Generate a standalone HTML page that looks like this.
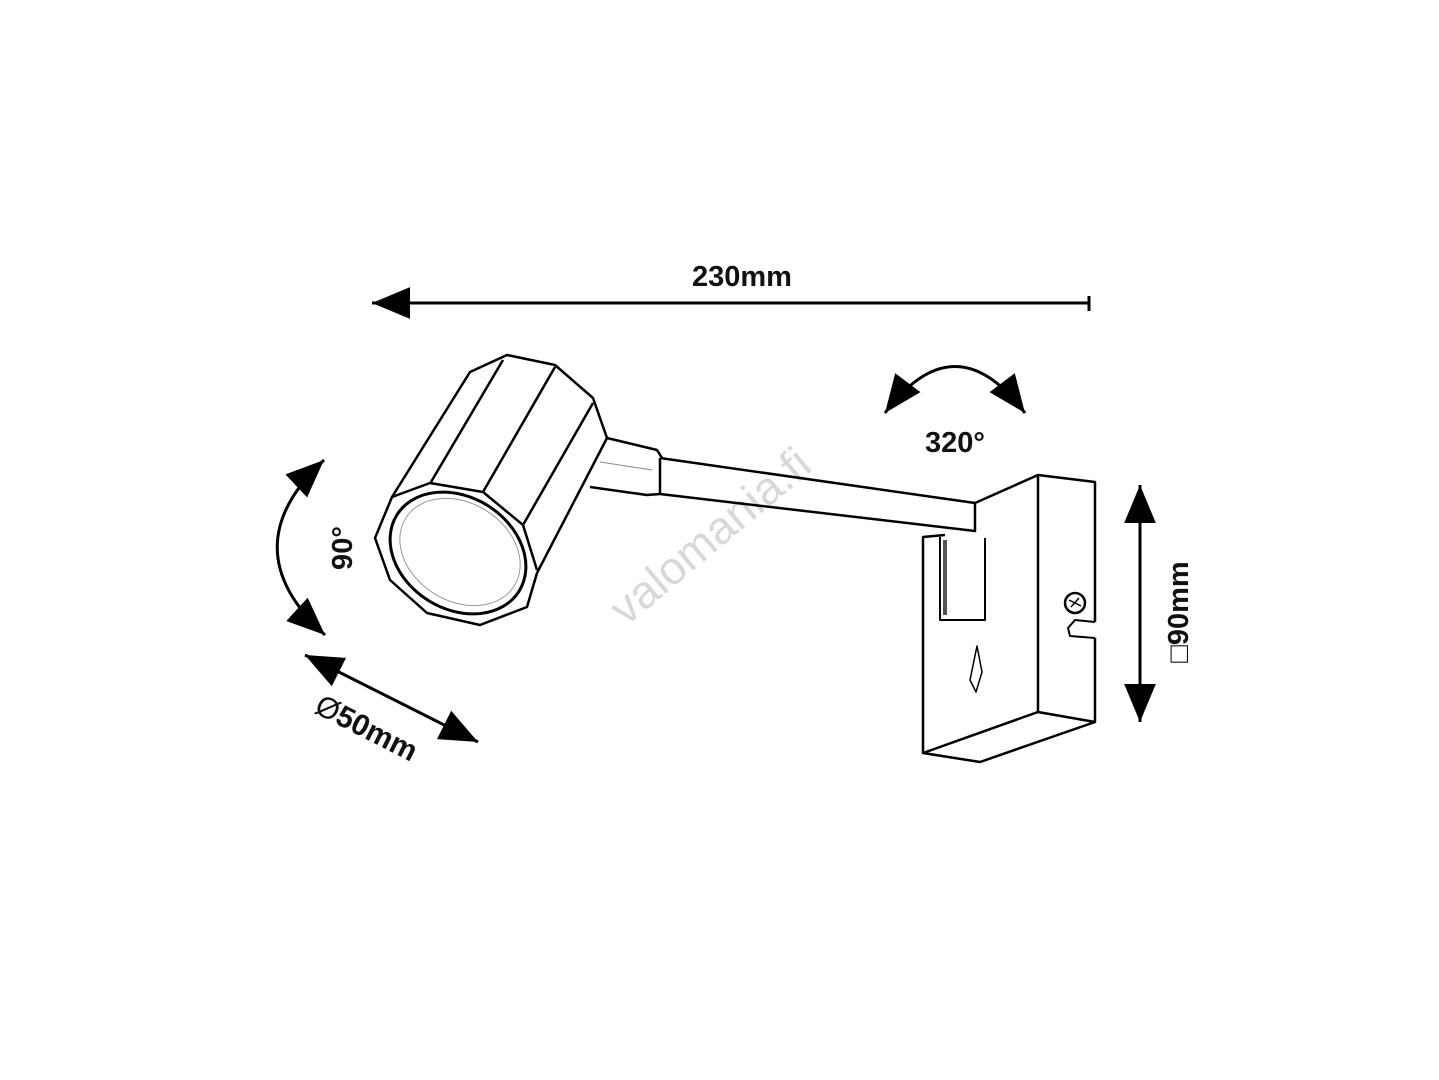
<!DOCTYPE html>
<html><head><meta charset="utf-8"><style>
html,body{margin:0;padding:0;background:#fff;}
svg{display:block}
text{font-family:"Liberation Sans","DejaVu Sans",sans-serif;font-weight:bold;fill:#111}
</style></head><body>
<svg width="1439" height="1080" viewBox="0 0 1439 1080" xmlns="http://www.w3.org/2000/svg">
<defs>
<marker id="a" viewBox="0 0 36 30" refX="36" refY="15" markerWidth="38" markerHeight="32" markerUnits="userSpaceOnUse" orient="auto-start-reverse">
<path d="M0,0 L36,15 L0,30 Z" fill="#000"/>
</marker>
</defs>

<text x="720" y="548" transform="rotate(-40 720 548)" text-anchor="middle" font-size="46" style="font-weight:normal;fill:#d8d8d8">valomania.fi</text>

<line x1="1089" y1="303" x2="372" y2="303" stroke="#000" stroke-width="3" marker-end="url(#a)"/>
<line x1="1089" y1="296" x2="1089" y2="311" stroke="#000" stroke-width="3"/>
<text x="742" y="286" text-anchor="middle" font-size="29">230mm</text>

<path d="M885,413 Q955,320 1025,413" fill="none" stroke="#000" stroke-width="3" marker-start="url(#a)" marker-end="url(#a)"/>
<text x="955" y="452" text-anchor="middle" font-size="29">320°</text>

<path d="M324,460 Q230,548 325,635" fill="none" stroke="#000" stroke-width="3" marker-start="url(#a)" marker-end="url(#a)"/>
<text x="352" y="548" transform="rotate(-90 352 548)" text-anchor="middle" font-size="29">90°</text>

<line x1="305" y1="655" x2="478" y2="742" stroke="#000" stroke-width="3" marker-start="url(#a)" marker-end="url(#a)"/>
<text x="362" y="737" transform="rotate(27 362 737)" text-anchor="middle" font-size="30"><tspan style="font-weight:normal">Ø</tspan>50mm</text>

<line x1="1140" y1="485" x2="1140" y2="722" stroke="#000" stroke-width="3" marker-start="url(#a)" marker-end="url(#a)"/>
<text x="1188" y="612" transform="rotate(-90 1188 612)" text-anchor="middle" font-size="29"><tspan style="font-weight:normal">□</tspan>90mm</text>

<g fill="none" stroke="#000" stroke-width="2.5" stroke-linejoin="round">
<path d="M660,458 L975,503 L975,531 L660,494"/>
<path d="M660,458 L660,494"/>
<path d="M607,438 L657,450 L662,458 M590,487 L647,495 L660,494"/>
<path d="M600,462 L652,470" stroke-width="1" stroke="#888"/>
<path d="M975,503 L1038,475 L1095,482 L1095,622 M1095,638 L1095,722 L980,762 L923,753 L923,537 L945,535"/>
<path d="M1038,475 L1038,712 L1095,722"/>
<path d="M923,753 L1038,712"/>
<path d="M1095,622 L1075,620 L1068,628 L1070,636 L1095,638" stroke-width="2"/>
<circle cx="1075" cy="603" r="10" stroke-width="2.5"/>
<path d="M1069,600 L1081,606 M1071,607 L1079,598" stroke-width="1.5"/>
<path d="M940,537 L940,620 L985,620 L985,538" stroke-width="2"/>
<path d="M945,540 L945,615" stroke-width="4" stroke="#555"/>
<path d="M977,646 L982,672 L976,692 L970,680 Z" stroke-width="1.5"/>
<path d="M375,538 L392,497 L470,372 L507,355 L555,365 L593,398 L607,438 L537,573 L527,607 L480,625 L427,613 L390,580 Z" fill="#fff"/>
<path d="M392,497 L430,483 L483,492 L523,525 L537,570" />
<path d="M431,482 L503,360 M483,492 L555,367 M523,525 L593,403"/>
<ellipse cx="458" cy="553" rx="72" ry="56" transform="rotate(32 458 553)" stroke-width="3"/>
<ellipse cx="460" cy="552" rx="64" ry="49" transform="rotate(32 460 552)" stroke-width="1" stroke="#999"/>
</g>
</svg>
</body></html>
